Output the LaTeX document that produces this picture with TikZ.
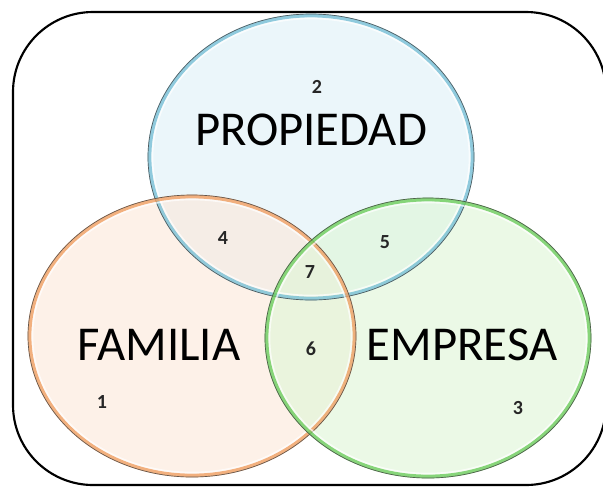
\documentclass[tikz,border=0pt]{standalone}
\usepackage{fontspec}
\setmainfont{Carlito}
\definecolor{propfill}{RGB}{222,240,247}
\definecolor{proprim}{RGB}{120,192,214}
\definecolor{famfill}{RGB}{252,232,218}
\definecolor{famrim}{RGB}{240,160,100}
\definecolor{empfill}{RGB}{222,246,214}
\definecolor{emprim}{RGB}{110,205,95}
\begin{document}
\begin{tikzpicture}[x=0.75pt,y=-0.75pt,
  frame/.style={draw=black,line width=1.6pt,rounded corners=60pt},
  setfill/.style={fill=#1,fill opacity=0.6},
  rim/.style={draw=#1,line width=2.8pt,draw opacity=0.8},
  edge/.style={draw=black!75,line width=0.5pt,draw opacity=0.8},
  shine/.style={draw=white,line width=1.2pt,draw opacity=0.7},
  title/.style={font=\fontsize{36.5}{42}\selectfont,text=black},
  num/.style={font=\fontsize{15}{18}\selectfont\bfseries,text=black!85}]
\useasboundingbox (0,0) rectangle (603,487);
\fill[white] (0,0) rectangle (603,487);
% outer frame
\draw[frame] (13,12) rectangle (606,485);
% the three sets
\coordinate (cP) at (311,157);
\coordinate (cF) at (192,336);
\coordinate (cE) at (428,338);
\fill[setfill=propfill] (cP) ellipse [x radius=163, y radius=143];
\fill[setfill=famfill] (cF) ellipse [x radius=164, y radius=141];
\fill[setfill=empfill] (cE) ellipse [x radius=163, y radius=140];
% rims
\draw[rim=proprim] (cP) ellipse [x radius=161.5, y radius=141.5];
\draw[shine] (cP) ellipse [x radius=158.5, y radius=138.5];
\draw[edge] (cP) ellipse [x radius=163, y radius=143];
\draw[rim=famrim] (cF) ellipse [x radius=162.5, y radius=139.5];
\draw[shine] (cF) ellipse [x radius=159.5, y radius=136.5];
\draw[edge] (cF) ellipse [x radius=164, y radius=141];
\draw[rim=emprim] (cE) ellipse [x radius=161.5, y radius=138.5];
\draw[shine] (cE) ellipse [x radius=158.5, y radius=135.5];
\draw[edge] (cE) ellipse [x radius=163, y radius=140];
% labels
\node[title] (tP) at (311,130) {PROPIEDAD};
\node[title] (tF) at (159,345) {FAMILIA};
\node[title] (tE) at (462,345) {EMPRESA};
\node[num] (n2) at (317,87) {2};
\node[num] (n4) at (223,238) {4};
\node[num] (n5) at (385,242) {5};
\node[num] (n7) at (310,272) {7};
\node[num] (n6) at (311,349) {6};
\node[num] (n1) at (102,402) {1};
\node[num] (n3) at (518,408) {3};
\end{tikzpicture}
\end{document}
